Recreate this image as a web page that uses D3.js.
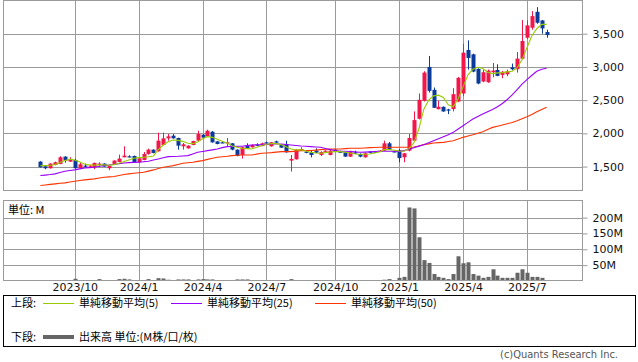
<!DOCTYPE html>
<html><head><meta charset="utf-8">
<script src="https://cdn.jsdelivr.net/npm/d3@7"></script>
<style>body{margin:0;background:#fff}svg{display:block}</style>
</head><body>
<svg id="c" width="638" height="362"></svg>
<script>
// weekly candles, index 0 = first week shown
const opens = [1575,1505,1475,1525,1540,1650,1575,1600,1475,1515,1500,1490,1525,1545,1475,1540,1570,1640,1655,1660,
1565,1600,1690,1755,1730,1825,1925,1965,1930,1805,1775,1825,1890,1980,1955,2025,1880,1865,1860,1850,
1755,1675,1815,1790,1830,1810,1865,1805,1880,1830,1840,1590,1610,1740,1725,1715,1740,1675,1725,1675,
1755,1725,1715,1650,1715,1690,1640,1725,1725,1725,1740,1850,1730,1745,1640,1740,1890,2220,2490,3000,
2655,2365,2400,2360,2365,2480,2600,3255,3190,2970,2780,2770,2920,2955,2880,2890,2995,2965,3125,3440,
3590,3830,3700,3525];
const highs = [1580,1510,1550,1575,1655,1655,1640,1620,1555,1545,1525,1560,1565,1550,1515,1595,1680,1805,1670,1665,
1630,1720,1770,1760,2010,2010,1990,1990,1935,1855,1820,1890,2040,1990,2055,2035,1885,1875,1930,1855,
1760,1795,1850,1835,1850,1860,1875,1870,1890,1840,1890,1675,1760,1790,1740,1750,1775,1730,1745,1760,
1765,1740,1720,1740,1740,1700,1710,1730,1735,1750,1890,1870,1740,1765,1705,1990,2330,2600,2935,3165,
2690,2490,2405,2370,2680,2850,3350,3400,3200,2980,2960,2960,3060,3040,2940,2960,3050,3225,3705,3700,
3840,3900,3705,3560];
const lows = [1485,1460,1470,1520,1535,1560,1570,1470,1470,1485,1490,1460,1490,1495,1445,1535,1565,1640,1640,1560,
1560,1595,1680,1700,1725,1820,1890,1920,1755,1755,1770,1820,1885,1935,1950,1860,1835,1855,1800,1745,
1655,1620,1770,1785,1815,1805,1845,1800,1855,1780,1710,1425,1605,1735,1700,1640,1705,1660,1715,1670,
1720,1705,1645,1645,1695,1640,1635,1700,1705,1720,1735,1750,1715,1565,1565,1730,1880,2210,2480,2615,
2385,2360,2325,2290,2330,2470,2560,2960,2920,2740,2770,2760,2845,2860,2830,2860,2950,2915,3110,3420,
3560,3650,3500,3440];
const closes = [1490,1475,1545,1565,1640,1590,1610,1475,1535,1505,1515,1555,1545,1500,1510,1590,1620,1665,1650,1565,
1625,1690,1755,1705,1890,1925,1955,1925,1815,1835,1815,1885,1990,1935,2040,1865,1840,1860,1865,1755,
1660,1790,1775,1825,1825,1850,1850,1865,1860,1785,1715,1615,1755,1765,1710,1675,1710,1720,1740,1740,
1725,1710,1650,1725,1700,1650,1700,1710,1710,1740,1850,1755,1720,1628,1700,1930,2200,2505,2915,2640,
2385,2400,2330,2350,2590,2835,3215,3135,2930,2750,2920,2945,2945,2865,2925,2935,2965,3125,3390,3625,
3765,3665,3580,3480];
// volume in millions of shares
const volumes = [3,2,3,2,3,3,3,7,3,2,2,3,6,3,2,3,6,7,5,3,
3,3,6,3,9,8,4,3,5,5,5,3,5,6,5,5,3,2,3,3,
5,5,5,2,2,2,2,2,2,2,3,6,3,2,2,2,2,2,2,2,
2,2,2,2,2,2,2,2,2,3,4,6,3,10,13,232,229,138,66,57,
22,13,10,6,22,78,56,59,22,17,10,13,37,17,10,10,10,26,37,26,
13,13,10,3];
const ma5 = [1515,1515,1520,1530,1560,1590,1610,1600,1570,1540,1525,1520,1525,1525,1520,1530,1550,1575,1600,1625,
1635,1640,1648,1660,1755,1825,1875,1900,1895,1880,1850,1845,1870,1920,1950,1940,1910,1880,1855,1815,
1790,1775,1770,1765,1790,1815,1835,1845,1845,1830,1800,1765,1750,1755,1735,1715,1705,1700,1710,1720,
1725,1725,1715,1705,1690,1685,1685,1690,1705,1720,1755,1755,1745,1735,1730,1770,1860,2065,2360,2500,
2565,2575,2540,2430,2400,2520,2700,2880,2965,2995,2975,2920,2900,2910,2915,2925,2935,2985,3110,3290,
3470,3575,3640,3640];
const ma25 = [1365,1372,1380,1390,1410,1430,1440,1450,1465,1480,1485,1490,1505,1515,1525,1535,1545,1555,1560,1563,
1565,1572,1580,1598,1615,1632,1650,1652,1655,1660,1665,1690,1715,1728,1740,1752,1765,1785,1800,1803,
1805,1805,1815,1825,1828,1830,1835,1840,1840,1840,1832,1825,1818,1810,1805,1800,1795,1790,1772,1755,
1742,1730,1730,1728,1722,1715,1718,1722,1726,1730,1730,1730,1730,1728,1740,1760,1785,1808,1830,1860,
1890,1920,1950,1980,2015,2065,2115,2165,2215,2255,2290,2325,2360,2400,2450,2510,2580,2660,2740,2810,
2875,2935,2965,2980];
const ma50 = [1215,1223,1232,1240,1248,1255,1268,1280,1290,1300,1308,1315,1328,1340,1345,1350,1365,1380,1390,1400,
1408,1415,1432,1450,1470,1490,1502,1515,1532,1550,1558,1565,1578,1590,1608,1625,1640,1648,1655,1665,
1670,1675,1675,1675,1688,1700,1705,1710,1718,1725,1725,1725,1732,1740,1740,1742,1748,1755,1760,1765,
1765,1765,1770,1775,1775,1775,1780,1785,1788,1790,1790,1790,1790,1790,1790,1790,1795,1810,1830,1842,
1855,1860,1865,1878,1890,1915,1940,1960,1980,2002,2025,2058,2090,2108,2125,2145,2165,2190,2220,2250,
2285,2325,2360,2392];
const xTickIdx = [7,20,33,46,60,73,86,99];
const xTickLabels = ["2023/10","2024/1","2024/4","2024/7","2024/10","2025/1","2025/4","2025/7"];
const priceTicks = [1500,2000,2500,3000,3500];
const volTicks = [50,100,150,200];

const svg = d3.select("#c");
const L = 3.5, R = 582.5;
const x = d3.scaleLinear().domain([-7.5, 110.3]).range([L, R]);
const y = d3.scaleLinear().domain([1140, 4000]).range([190.5, 0.5]);
const yv = d3.scaleLinear().domain([0, 254]).range([281, 200.5]);
const grid = "#9a9a9a";
const upC = "#f2164a", dnC = "#0a3a9a";
const cx = i => Math.round(x(i)) + 0.5;

// panels
function panel(top, bottom) {
  const g = svg.append("g");
  xTickIdx.forEach(d => g.append("line").attr("x1", cx(d)).attr("x2", cx(d))
    .attr("y1", top).attr("y2", bottom).attr("stroke", grid));
  return g;
}
const gp = panel(0.5, 190.5);
priceTicks.forEach(p => gp.append("line").attr("x1", L).attr("x2", R)
  .attr("y1", Math.round(y(p)) + 0.5).attr("y2", Math.round(y(p)) + 0.5).attr("stroke", grid));
gp.append("rect").attr("x", L).attr("y", 0.5).attr("width", R - L).attr("height", 190)
  .attr("fill", "none").attr("stroke", grid);

const gv = panel(200.5, 280.5);
volTicks.forEach(v => gv.append("line").attr("x1", L).attr("x2", R)
  .attr("y1", Math.round(yv(v)) + 0.5).attr("y2", Math.round(yv(v)) + 0.5).attr("stroke", grid));

// volume bars
const idx = d3.range(volumes.length);
svg.append("g").selectAll("rect").data(idx).join("rect")
  .attr("x", i => Math.round(x(i)) - 1.5).attr("width", 4)
  .attr("y", i => yv(volumes[i])).attr("height", i => yv(0) - yv(volumes[i]))
  .attr("fill", "#666");
svg.append("rect").attr("x", L).attr("y", 200.5).attr("width", R - L).attr("height", 80)
  .attr("fill", "none").attr("stroke", grid);

// candles
const gc = svg.append("g");
idx.forEach(i => {
  const up = closes[i] >= opens[i];
  const col = up ? upC : dnC;
  gc.append("line").attr("x1", cx(i)).attr("x2", cx(i))
    .attr("y1", y(highs[i])).attr("y2", y(lows[i])).attr("stroke", col).attr("stroke-width", 1);
  const t = y(Math.max(opens[i], closes[i])), b = y(Math.min(opens[i], closes[i]));
  gc.append("rect").attr("x", Math.round(x(i)) - 1.5).attr("width", 4)
    .attr("y", t).attr("height", Math.max(1.2, b - t)).attr("fill", col);
});

// moving averages
const line = d3.line().x((d, i) => x(i)).y(d => y(d));
[[ma50, "#ff3300"], [ma25, "#9900ff"], [ma5, "#99cc00"]].forEach(([arr, c]) =>
  svg.append("path").attr("d", line(arr)).attr("fill", "none").attr("stroke", c).attr("stroke-width", 1.1));

// axes
const numFont = "DejaVu Sans, Verdana, sans-serif";
const ya = svg.append("g").attr("transform", `translate(${R},0)`)
  .call(d3.axisRight(y).tickValues(priceTicks).tickSize(5).tickPadding(5).tickFormat(d3.format(",")));
const yva = svg.append("g").attr("transform", `translate(${R},0)`)
  .call(d3.axisRight(yv).tickValues(volTicks).tickSize(5).tickPadding(5).tickFormat(d => d + "M"));
const xa = svg.append("g").attr("transform", `translate(0,281)`)
  .call(d3.axisBottom(x).tickValues(xTickIdx).tickSize(0).tickPadding(2).tickFormat((d, i) => xTickLabels[i]));
[ya, yva, xa].forEach(a => {
  a.select(".domain").remove();
  a.selectAll(".tick line").attr("stroke", grid);
  a.selectAll("text").attr("font-family", numFont).attr("font-size", 11).attr("fill", "#111");
});

const cjk = "'Noto Sans CJK JP', sans-serif";
svg.append("text").attr("x", 8).attr("y", 214).attr("font-family", cjk).attr("font-size", 11).text("単位: M");

// legend
svg.append("rect").attr("x", 3.5).attr("y", 295.5).attr("width", 632).attr("height", 51)
  .attr("fill", "none").attr("stroke", "#000");
const lg = svg.append("g").attr("font-family", cjk).attr("font-size", 11).attr("fill", "#000");
lg.append("text").attr("x", 11).attr("y", 307).text("上段:");
lg.append("text").attr("x", 11).attr("y", 341).text("下段:");
const items = [[43, "#99cc00", "単純移動平均(5)"], [171, "#9900ff", "単純移動平均(25)"], [315, "#ff3300", "単純移動平均(50)"]];
items.forEach(([lx, c, t]) => {
  lg.append("line").attr("x1", lx).attr("x2", lx + 31).attr("y1", 303.5).attr("y2", 303.5).attr("stroke", c);
  lg.append("text").attr("x", lx + 36).attr("y", 307).text(t);
});
lg.append("line").attr("x1", 43).attr("x2", 74).attr("y1", 337).attr("y2", 337).attr("stroke", "#666").attr("stroke-width", 4);
lg.append("text").attr("x", 79).attr("y", 341).text("出来高 単位:(M株/口/枚)");

svg.append("text").attr("x", 618).attr("y", 358).attr("text-anchor", "end")
  .attr("font-family", "'DejaVu Sans Condensed', 'Liberation Sans', sans-serif").attr("font-size", 11)
  .attr("fill", "#555").text("(c)Quants Research Inc.");
</script>
</body></html>
